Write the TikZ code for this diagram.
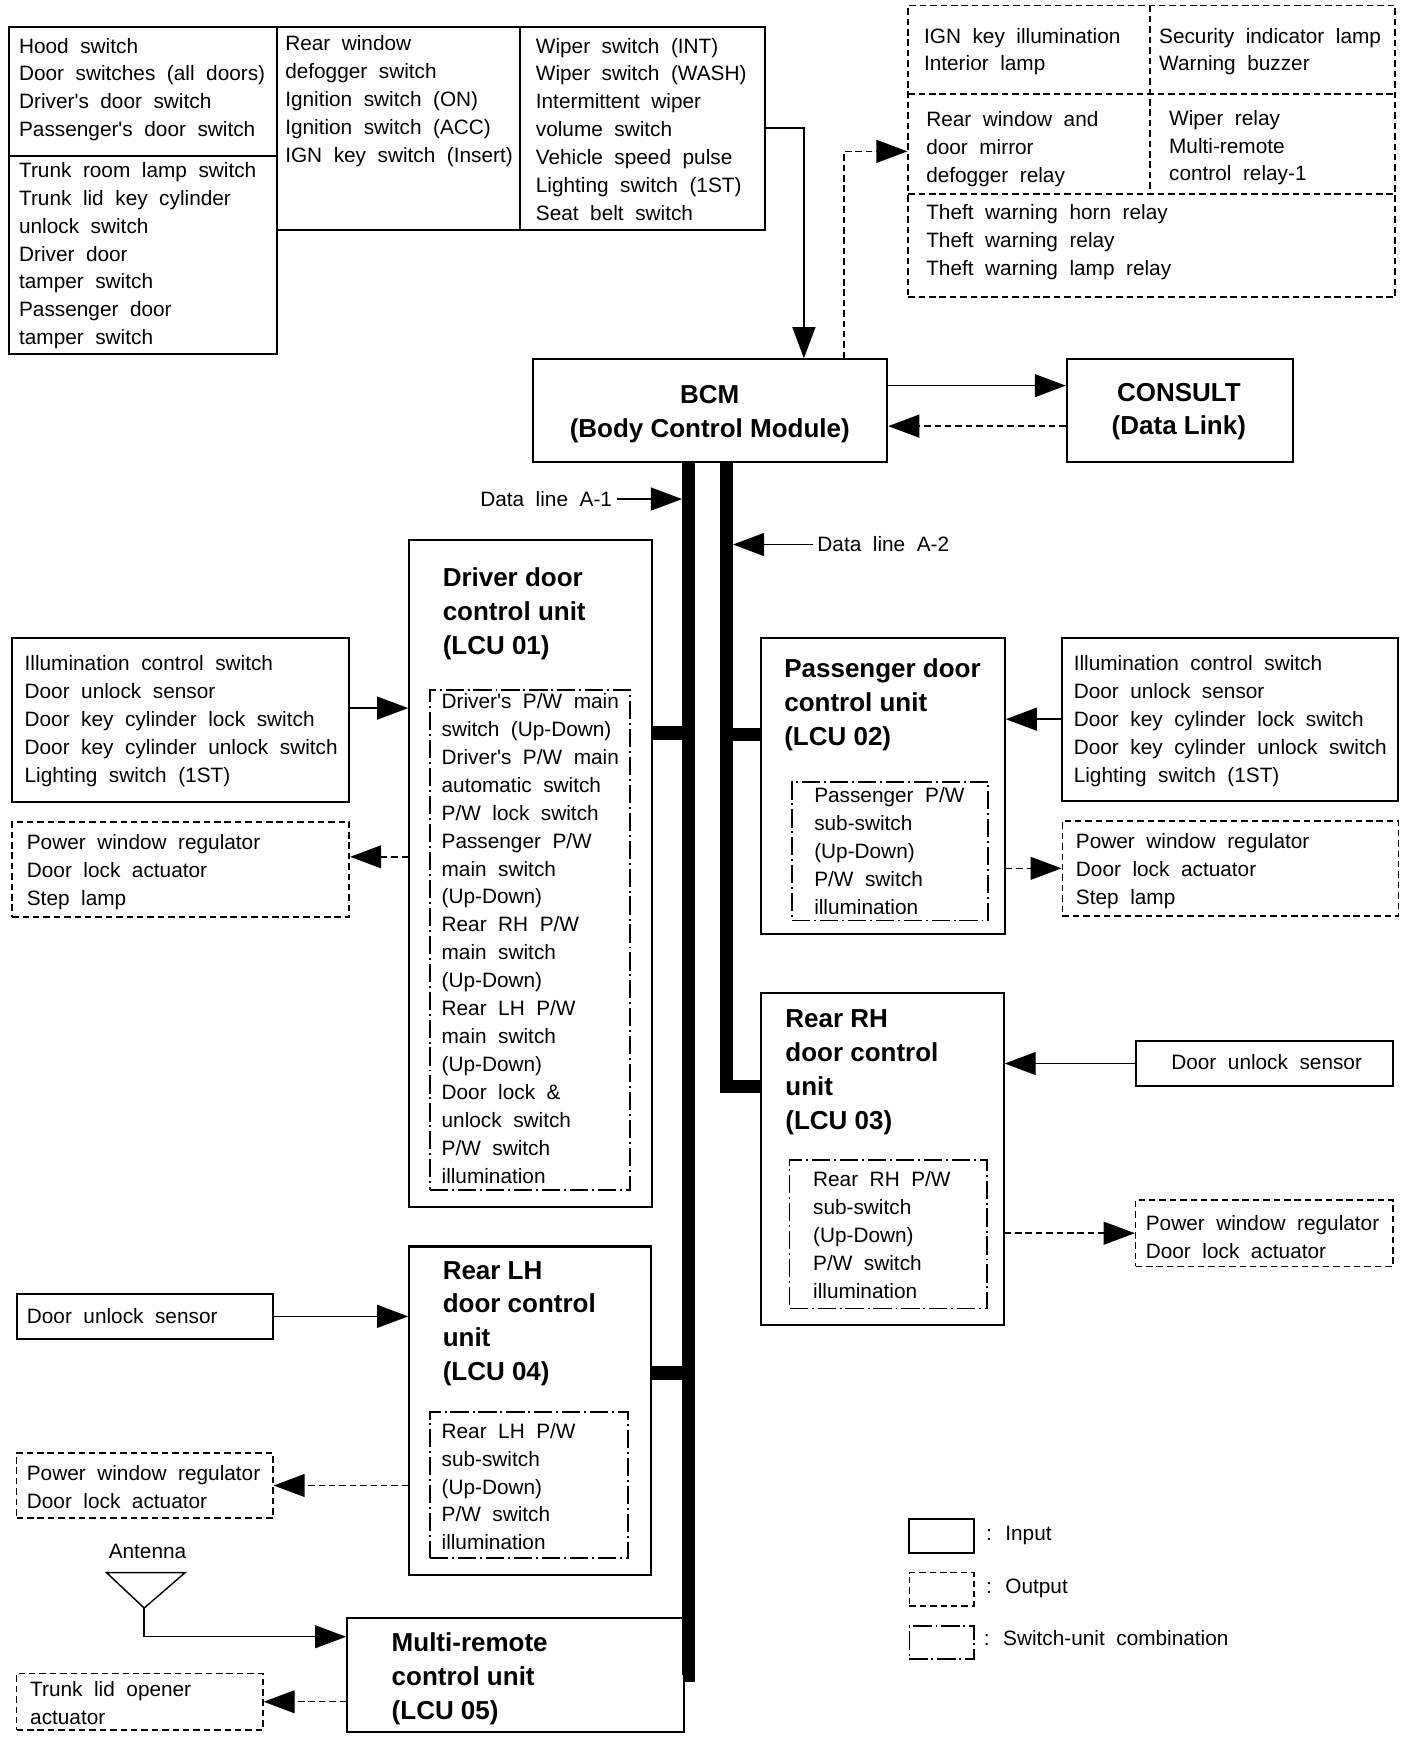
\documentclass[tikz,border=0pt]{standalone}
\usepackage{fontspec}
\setmainfont{Liberation Sans}
\newfontfamily\bodyfont[WordSpace=2]{Liberation Sans}
\usetikzlibrary{arrows.meta, calc, fit, positioning}

\newcommand{\bodytxt}{\bodyfont\fontsize{16}{21.5}\selectfont}
\newcommand{\titletxt}{\bfseries\fontsize{20}{26.1}\selectfont}

\begin{document}
\begin{tikzpicture}[x=0.03cm, y=-0.03cm, >={Triangle[length=0.84cm,width=0.62cm]},
	inbox/.style={draw, line width=1.6pt, inner sep=0pt},
	outbox/.style={draw, line width=1.3pt, dash pattern=on 5pt off 3pt, inner sep=0pt},
	swbox/.style={draw, line width=1.3pt, dash pattern=on 14pt off 3pt on 1.5pt off 3pt, inner sep=0pt},
	txt/.style={anchor=north west, inner sep=0pt, align=left, font=\bodytxt},
	ttl/.style={anchor=north west, inner sep=0pt, align=left, font=\titletxt},
	lnk/.style={line width=1.1pt},
	olnk/.style={line width=1.1pt, dash pattern=on 5pt off 3pt},
	bus/.style={line width=0.36cm}]
	\path[fill=white] (0,0) rectangle (1270,1569);

	% switches read by the BCM
	\node[inbox, fit={(8,24) (250,319)}] (hood) {};
	\draw[line width=1.6pt] (8,141) -- (250,141);
	\node[txt] (hoodA) at (17,34) {Hood switch\\Door switches (all doors)\\Driver's door switch\\Passenger's door switch};
	\node[txt] (hoodB) at (17,146) {Trunk room lamp switch\\Trunk lid key cylinder\\unlock switch\\Driver door\\tamper switch\\Passenger door\\tamper switch};
	\node[inbox, fit={(250,24) (469,207)}] (defog) {};
	\node[txt] (defogT) at (257,32) {Rear window\\defogger switch\\Ignition switch (ON)\\Ignition switch (ACC)\\IGN key switch (Insert)};
	\node[inbox, fit={(469,24) (690,207)}] (wiper) {};
	\node[txt] (wiperT) at (483,34) {Wiper switch (INT)\\Wiper switch (WASH)\\Intermittent wiper\\volume switch\\Vehicle speed pulse\\Lighting switch (1ST)\\Seat belt switch};

	% loads driven by the BCM
	\node[outbox, fit={(819,5) (1258,268)}] (relay) {};
	\draw[outbox] (819,85) -- (1258,85) (819,175) -- (1258,175) (1037,5) -- (1037,175);
	\node[txt] (relayA) at (833,25) {IGN key illumination\\Interior lamp};
	\node[txt] (relayB) at (1045,25) {Security indicator lamp\\Warning buzzer};
	\node[txt] (relayC) at (835,100) {Rear window and\\door mirror\\defogger relay};
	\node[txt] (relayD) at (1054,99) {Wiper relay\\Multi-remote\\control relay-1};
	\node[txt] (relayE) at (835,184) {Theft warning horn relay\\Theft warning relay\\Theft warning lamp relay};

	\node[inbox, fit={(481,324) (800,417)}] (bcm) {};
	\node[ttl, anchor=north, align=center] (bcmT) at (640,347) {BCM\\(Body Control Module)};
	\node[inbox, fit={(962,324) (1166,417)}] (consult) {};
	\node[ttl, anchor=north, align=center] (consultT) at (1063,345) {CONSULT\\(Data Link)};

	\draw[lnk,->] (wiper.east) -| ($(bcm.north west)!.763!(bcm.north east)$);
	\draw[olnk,->] ($(bcm.north west)!.876!(bcm.north east)$) |- (relay.west);
	\draw[lnk,->] ($(bcm.north east)!.26!(bcm.south east)$) coordinate (c1) -- (c1 -| consult.west);
	\draw[olnk,->] ($(consult.north west)!.645!(consult.south west)$) coordinate (c2) -- (c2 -| bcm.east);

	% door control units
	\node[inbox, fit={(369,487) (588,1088)}] (lcu1) {};
	\node[ttl] (lcu1T) at (399,512) {Driver door\\control unit\\(LCU 01)};
	\node[swbox, fit={(388,622) (568,1073)}] (sw1) {};
	\node[txt] (sw1T) at (398,625) {Driver's P/W main\\switch (Up-Down)\\Driver's P/W main\\automatic switch\\P/W lock switch\\Passenger P/W\\main switch\\(Up-Down)\\Rear RH P/W\\main switch\\(Up-Down)\\Rear LH P/W\\main switch\\(Up-Down)\\Door lock \&\\unlock switch\\P/W switch\\illumination};
	\node[inbox, fit={(11,575) (315,723)}] (drvIn) {};
	\node[txt] (drvInT) at (22,591) {Illumination control switch\\Door unlock sensor\\Door key cylinder lock switch\\Door key cylinder unlock switch\\Lighting switch (1ST)};
	\node[outbox, fit={(11,741) (315,827)}] (drvOut) {};
	\node[txt] (drvOutT) at (24,752) {Power window regulator\\Door lock actuator\\Step lamp};

	\node[inbox, fit={(686,575) (906,842)}] (lcu2) {};
	\node[ttl] (lcu2T) at (707,594) {Passenger door\\control unit\\(LCU 02)};
	\node[swbox, fit={(714,705) (891,830)}] (sw2) {};
	\node[txt] (sw2T) at (734,710) {Passenger P/W\\sub-switch\\(Up-Down)\\P/W switch\\illumination};
	\node[inbox, fit={(958,575) (1261,722)}] (pasIn) {};
	\node[txt] (pasInT) at (968,591) {Illumination control switch\\Door unlock sensor\\Door key cylinder lock switch\\Door key cylinder unlock switch\\Lighting switch (1ST)};
	\node[outbox, fit={(958,740) (1261,826)}] (pasOut) {};
	\node[txt] (pasOutT) at (970,751) {Power window regulator\\Door lock actuator\\Step lamp};

	\node[inbox, fit={(686,895) (905,1195)}] (lcu3) {};
	\node[ttl] (lcu3T) at (708,910) {Rear RH\\door control\\unit\\(LCU 03)};
	\node[swbox, fit={(712,1046) (890,1180)}] (sw3) {};
	\node[txt] (sw3T) at (733,1056) {Rear RH P/W\\sub-switch\\(Up-Down)\\P/W switch\\illumination};
	\node[inbox, fit={(1024,939) (1256,979)}] (rrIn) {};
	\node[txt] (rrInT) at (1056,951) {Door unlock sensor};
	\node[outbox, fit={(1024,1082) (1256,1142)}] (rrOut) {};
	\node[txt] (rrOutT) at (1033,1096) {Power window regulator\\Door lock actuator};

	\node[inbox, fit={(369,1124) (587,1420)}] (lcu4) {};
	\node[ttl] (lcu4T) at (399,1137) {Rear LH\\door control\\unit\\(LCU 04)};
	\node[swbox, fit={(388,1273) (566,1405)}] (sw4) {};
	\node[txt] (sw4T) at (398,1283) {Rear LH P/W\\sub-switch\\(Up-Down)\\P/W switch\\illumination};
	\node[inbox, fit={(15,1167) (246,1207)}] (rlIn) {};
	\node[txt] (rlInT) at (24,1180) {Door unlock sensor};
	\node[outbox, fit={(15,1310) (246,1369)}] (rlOut) {};
	\node[txt] (rlOutT) at (24,1321) {Power window regulator\\Door lock actuator};

	\node[inbox, fit={(313,1459) (617,1562)}] (lcu5) {};
	\node[ttl] (lcu5T) at (353,1472) {Multi-remote\\control unit\\(LCU 05)};
	\node[outbox, fit={(15,1509) (237,1560)}] (trunk) {};
	\node[txt] (trunkT) at (27,1516) {Trunk lid opener\\actuator};
	\node[font=\bodytxt, inner sep=0pt] (antT) at (133,1399) {Antenna};
	\draw[lnk] (96,1418) -- (167,1418) -- (130,1450) -- cycle;
	\coordinate (ant) at (130,1450);

	% data lines
	\coordinate (j1) at (621,661); \coordinate (j2) at (655,662); \coordinate (j3) at (655,980); \coordinate (j4) at (621,1238);
	\draw[bus] (bcm.south -| j1) |- (lcu5.east);
	\draw[bus] (bcm.south -| j3) -- (j3) -- (j3 -| lcu3.west);
	\draw[bus] (j1) -- (j1 -| lcu1.east); \draw[bus] (j2) -- (j2 -| lcu2.west); \draw[bus] (j4) -- (j4 -| lcu4.east);
	\coordinate (a1) at (615,450); \coordinate (a2) at (661,491);
	\node[font=\bodytxt, anchor=east] (dl1) at (556,450) {Data line A-1};
	\node[font=\bodytxt, anchor=west] (dl2) at (733,491) {Data line A-2};
	\draw[lnk,->] (dl1) -- (a1); \draw[lnk,->] (dl2) -- (a2);

	% inputs and outputs of the units
	\coordinate (p1) at ($(drvIn.north east)!.43!(drvIn.south east)$);
	\coordinate (p2) at ($(drvOut.north east)!.37!(drvOut.south east)$);
	\draw[lnk,->] (p1) -- (p1 -| lcu1.west);
	\draw[olnk,->] (p2 -| lcu1.west) -- (p2);
	\draw[lnk,->] (pasIn.west) -- (pasIn.west -| lcu2.east);
	\draw[olnk,->] (pasOut.west -| lcu2.east) -- (pasOut.west);
	\draw[lnk,->] (rrIn.west) -- (rrIn.west -| lcu3.east);
	\draw[olnk,->] (rrOut.west -| lcu3.east) -- (rrOut.west);
	\draw[lnk,->] (rlIn.east) -- (rlIn.east -| lcu4.west);
	\draw[olnk,->] (rlOut.east -| lcu4.west) -- (rlOut.east);
	\draw[lnk,->] (ant) |- ($(lcu5.north west)!.17!(lcu5.south west)$);
	\draw[olnk,->] (trunk.east -| lcu5.west) -- (trunk.east);

	% key
	\node[inbox, fit={(820,1370) (878,1400)}] (keyIn) {};
	\node[font=\bodytxt, anchor=west, inner sep=0pt] (keyInT) at (889,1385) {: Input};
	\node[outbox, fit={(820,1418) (878,1448)}] (keyOut) {};
	\node[font=\bodytxt, anchor=west, inner sep=0pt] (keyOutT) at (889,1432) {: Output};
	\node[swbox, fit={(820,1466) (878,1496)}] (keySw) {};
	\node[font=\bodytxt, anchor=west, inner sep=0pt] (keySwT) at (887,1477) {: Switch-unit combination};
\end{tikzpicture}
\end{document}
